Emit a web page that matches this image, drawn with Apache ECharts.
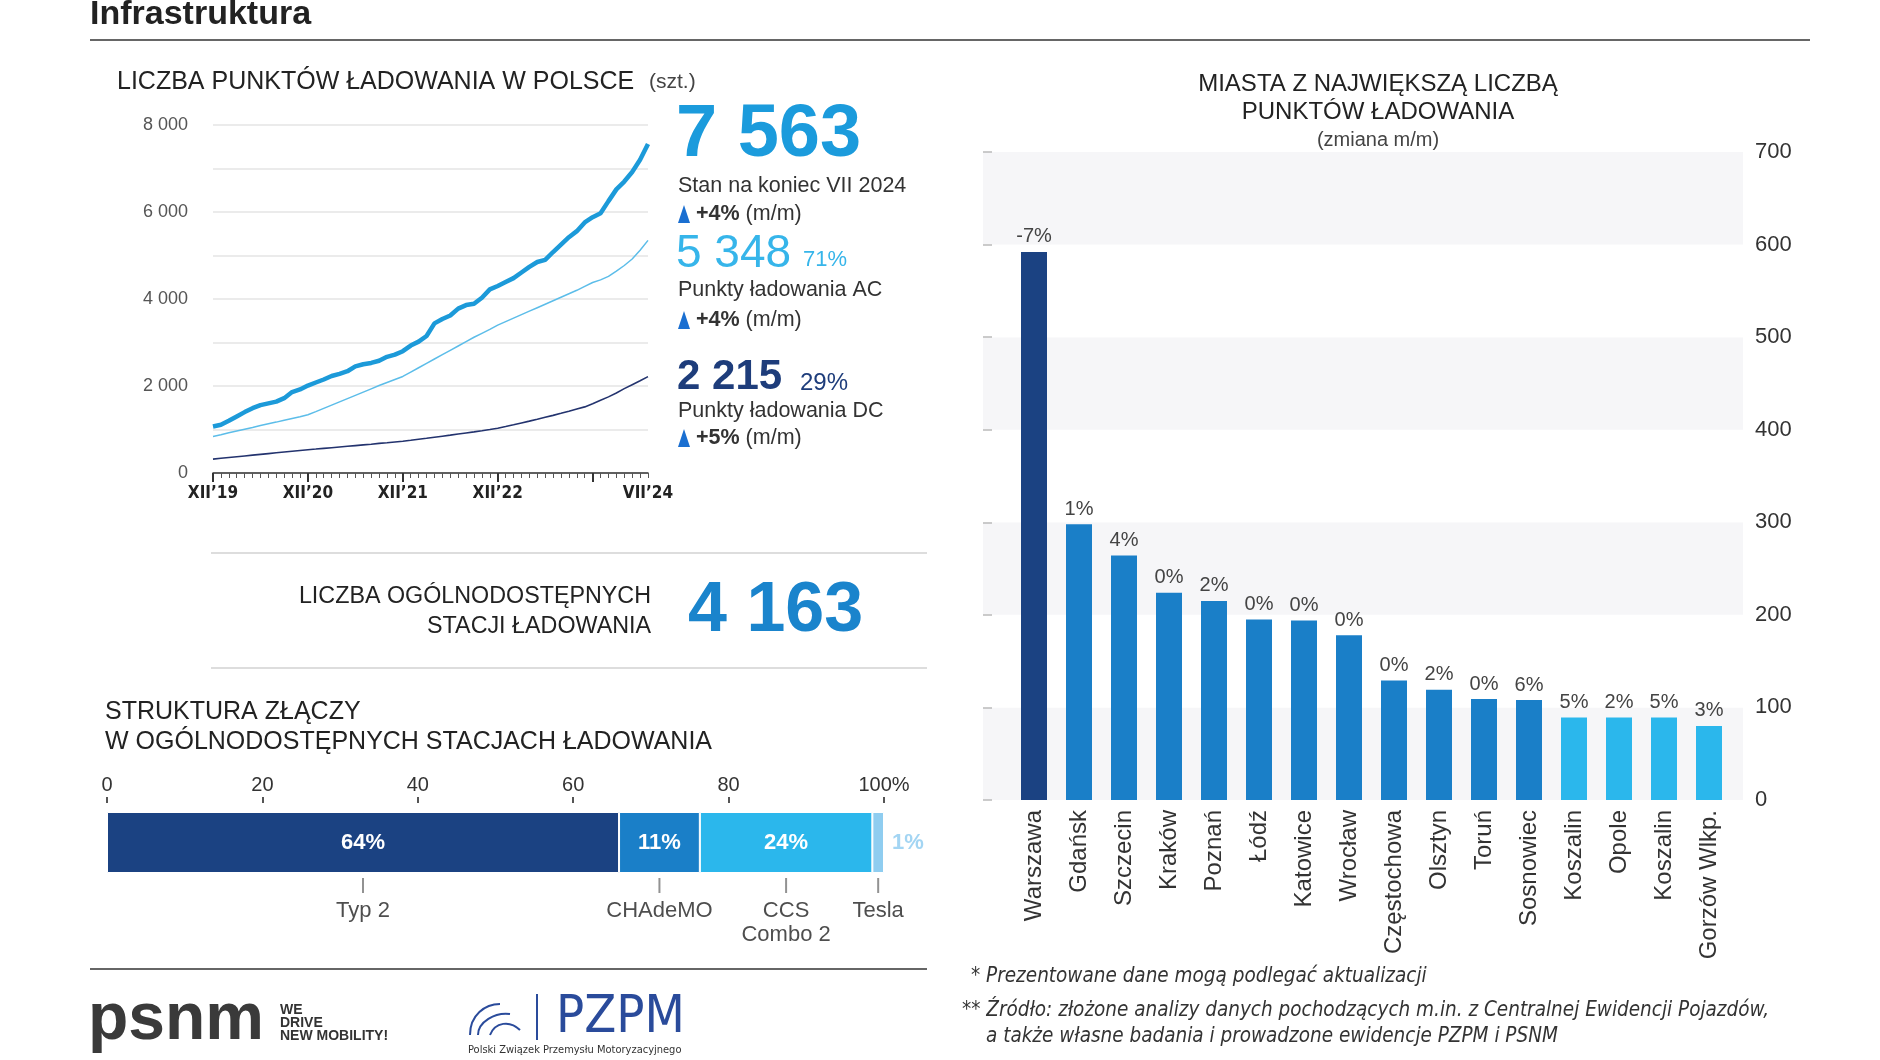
<!DOCTYPE html>
<html>
<head>
<meta charset="utf-8">
<title>Infrastruktura</title>
<script src="https://cdn.jsdelivr.net/npm/echarts@6/dist/echarts.min.js"></script>
<style>
html, body { margin: 0; padding: 0; background: #fff; }
#chart { width: 1880px; height: 1060px; }
</style>
</head>
<body>
<div id="chart"></div>
<script>
// ---------- dane ----------
var months = [
    "XII’19",
    "I’20", "II’20", "III’20", "IV’20", "V’20", "VI’20", "VII’20", "VIII’20", "IX’20", "X’20", "XI’20", "XII’20",
    "I’21", "II’21", "III’21", "IV’21", "V’21", "VI’21", "VII’21", "VIII’21", "IX’21", "X’21", "XI’21", "XII’21",
    "I’22", "II’22", "III’22", "IV’22", "V’22", "VI’22", "VII’22", "VIII’22", "IX’22", "X’22", "XI’22", "XII’22",
    "I’23", "II’23", "III’23", "IV’23", "V’23", "VI’23", "VII’23", "VIII’23", "IX’23", "X’23", "XI’23", "XII’23",
    "I’24", "II’24", "III’24", "IV’24", "V’24", "VI’24", "VII’24"
];
var shownMonths = [0, 12, 24, 36, 55];

var totalPoints = [
    1070, 1110, 1200, 1300, 1400, 1490, 1560, 1600, 1640, 1720, 1860, 1920,
    2010, 2080, 2150, 2230, 2280, 2340, 2450, 2500, 2530, 2580, 2670, 2720,
    2800, 2930, 3020, 3150, 3440, 3540, 3620, 3780, 3860, 3890, 4030, 4220,
    4300, 4390, 4480, 4610, 4740, 4850, 4900, 5080, 5250, 5420, 5560, 5760,
    5880, 5970, 6250, 6520, 6700, 6920, 7200, 7563
];
var acPoints = [
    840, 880, 925, 965, 1005, 1045, 1090, 1130, 1170, 1215, 1255, 1295,
    1340, 1410, 1485, 1560, 1635, 1710, 1785, 1860, 1935, 2010, 2080, 2150,
    2220, 2320, 2420, 2520, 2620, 2720, 2820, 2920, 3020, 3120, 3210, 3300,
    3400, 3480, 3560, 3640, 3720, 3800, 3880, 3960, 4040, 4120, 4200, 4290,
    4380, 4440, 4520, 4640, 4770, 4920, 5120, 5348
];
var dcPoints = [
    320, 338, 356, 374, 392, 410, 428, 446, 464, 482, 500, 518,
    535, 550, 566, 582, 598, 614, 630, 646, 662, 680, 696, 713,
    730, 752, 775, 798, 822, 846, 870, 895, 920, 945, 972, 1000,
    1030, 1068, 1108, 1150, 1192, 1235, 1280, 1325, 1372, 1420, 1470, 1520,
    1590, 1670, 1750, 1840, 1940, 2030, 2120, 2215
];

var connectors = ['Typ 2', 'CHAdeMO', 'CCS\nCombo 2', 'Tesla'];
var connectorShare = [65.9, 10.4, 22.2, 1.5];
var connectorLabels = ['64%', '11%', '24%', '1%'];

var cities = ['Warszawa', 'Gdańsk', 'Szczecin', 'Kraków', 'Poznań', 'Łódź', 'Katowice', 'Wrocław',
    'Częstochowa', 'Olsztyn', 'Toruń', 'Sosnowiec', 'Koszalin', 'Opole', 'Koszalin', 'Gorzów Wlkp.'];
var cityPoints = [592, 298, 264, 224, 215, 195, 194, 178, 129, 119, 109, 108, 89, 89, 89, 80];
var cityChange = ['-7%', '1%', '4%', '0%', '2%', '0%', '0%', '0%', '0%', '2%', '0%', '6%', '5%', '2%', '5%', '3%'];

// ---------- style ----------
var FONT = "'Liberation Sans', Arial, sans-serif";
var NARROW = "'Liberation Sans Narrow', 'DejaVu Sans Condensed', 'Liberation Sans', Arial, sans-serif";
var NAVY = '#1b4282', MID = '#1a7fc8', LIGHT = '#2bb7ec', PALE = '#8fcdf0';
var segColors = [NAVY, MID, LIGHT, PALE];

function T(x, y, text, size, color, extra) {
    var st = {
        x: x, y: y, text: text, fontSize: size, fontFamily: FONT, fill: color,
        align: 'left', textAlign: 'left', verticalAlign: 'middle', textVerticalAlign: 'middle'
    };
    if (extra) {
        for (var k in extra) st[k] = extra[k];
        if (extra.align) st.textAlign = extra.align;
    }
    return { type: 'text', silent: true, style: st };
}
function L(x1, y1, x2, y2, color, w) {
    return { type: 'line', silent: true, shape: { x1: x1, y1: y1, x2: x2, y2: y2 }, style: { stroke: color, lineWidth: w } };
}
function tri(x, y) {
    return { type: 'polygon', silent: true, shape: { points: [[x, y + 9], [x + 6, y - 9], [x + 12, y + 9]] }, style: { fill: '#1a6fd1' } };
}
function change(x, y, pct) {
    return T(x + 18, y, '{b|' + pct + '} (m/m)', 21.5, '#333', { rich: { b: { fontSize: 21.5, fontWeight: 'bold', fill: '#333', fontFamily: FONT } } });
}

var graphics = [
    T(90, 15, 'Infrastruktura', 34, '#222', { fontWeight: 'bold' }),
    L(90, 40, 1810, 40, '#666', 2),
    T(117, 82, 'LICZBA PUNKTÓW ŁADOWANIA W POLSCE', 25, '#222'),
    T(649, 82, '(szt.)', 21, '#444'),

    T(676, 136, '7 563', 74, '#1b9bdc', { fontWeight: 'bold' }),
    T(678, 186, 'Stan na koniec VII 2024', 21.5, '#333'),
    tri(678, 214), change(678, 214, '+4%'),
    T(676, 254, '5 348', 46, '#36b5ea'),
    T(803, 260, '71%', 22, '#36b5ea'),
    T(678, 290, 'Punkty ładowania AC', 21.5, '#333'),
    tri(678, 320), change(678, 320, '+4%'),
    T(677, 377, '2 215', 42, '#1e3d7b', { fontWeight: 'bold' }),
    T(800, 383, '29%', 24, '#1e3d7b'),
    T(678, 411, 'Punkty ładowania DC', 21.5, '#333'),
    tri(678, 438), change(678, 438, '+5%'),

    L(211, 553, 927, 553, '#ddd', 2),
    L(211, 668, 927, 668, '#ddd', 2),
    T(651, 597, 'LICZBA OGÓLNODOSTĘPNYCH', 23.3, '#222', { align: 'right' }),
    T(651, 627, 'STACJI ŁADOWANIA', 23.3, '#222', { align: 'right' }),
    T(688, 612, '4 163', 70, '#1a84cc', { fontWeight: 'bold' }),

    T(105, 712, 'STRUKTURA ZŁĄCZY', 25, '#222'),
    T(105, 742, 'W OGÓLNODOSTĘPNYCH STACJACH ŁADOWANIA', 25, '#222'),
    L(90, 969, 927, 969, '#666', 2),

    T(1378, 84, 'MIASTA Z NAJWIĘKSZĄ LICZBĄ', 24, '#222', { align: 'center' }),
    T(1378, 112, 'PUNKTÓW ŁADOWANIA', 24, '#222', { align: 'center' }),
    T(1378, 140, '(zmiana m/m)', 20, '#444', { align: 'center' }),

    T(971, 977, '* Prezentowane dane mogą podlegać aktualizacji', 20.5, '#333', { fontStyle: 'italic', fontFamily: NARROW }),
    T(962, 1011, '** Źródło: złożone analizy danych pochodzących m.in. z Centralnej Ewidencji Pojazdów,', 20.5, '#333', { fontStyle: 'italic', fontFamily: NARROW }),
    T(986, 1037, 'a także własne badania i prowadzone ewidencje PZPM i PSNM', 20.5, '#333', { fontStyle: 'italic', fontFamily: NARROW }),

    // logotypy
    T(88, 1021, 'psnm', 66, '#3a3a3a', { fontWeight: 'bold' }),
    T(280, 1010, 'WE', 14, '#333', { fontWeight: 'bold' }),
    T(280, 1023, 'DRIVE', 14, '#333', { fontWeight: 'bold' }),
    T(280, 1036, 'NEW MOBILITY!', 14, '#333', { fontWeight: 'bold' }),
    { type: 'bezierCurve', silent: true, shape: { x1: 470, y1: 1035, x2: 500, y2: 1004, cpx1: 470, cpy1: 1015, cpx2: 485, cpy2: 1004 }, style: { stroke: '#2a4b9b', lineWidth: 2, fill: null } },
    { type: 'bezierCurve', silent: true, shape: { x1: 478, y1: 1035, x2: 510, y2: 1014, cpx1: 478, cpy1: 1022, cpx2: 495, cpy2: 1012 }, style: { stroke: '#2a4b9b', lineWidth: 2, fill: null } },
    { type: 'bezierCurve', silent: true, shape: { x1: 490, y1: 1035, x2: 520, y2: 1030, cpx1: 495, cpy1: 1022, cpx2: 510, cpy2: 1020 }, style: { stroke: '#2a4b9b', lineWidth: 2, fill: null } },
    L(537, 994, 537, 1040, '#2a4b9b', 2),
    T(556, 1018, 'PZPM', 52, '#2a4b9b', { fontFamily: NARROW }),
    T(468, 1050, 'Polski Związek Przemysłu Motoryzacyjnego', 11, '#333', { fontFamily: NARROW })
];

// środki segmentów dla etykiet złączy
var connectorPoints = [];
var acc = 0;
for (var i = 0; i < connectorShare.length; i++) {
    connectorPoints.push({ value: [acc + connectorShare[i] / 2, 0], name: connectors[i] });
    acc += connectorShare[i];
}

var shareSeries = connectorShare.map(function (v, i) {
    return {
        type: 'bar', xAxisIndex: 1, yAxisIndex: 1, stack: 'share', barWidth: 61,
        data: [v],
        itemStyle: { color: segColors[i], borderColor: '#fff', borderWidth: 1 },
        label: {
            show: true, position: i === 3 ? 'right' : 'inside', distance: 8,
            formatter: connectorLabels[i], fontFamily: FONT, fontSize: 22, fontWeight: 'bold',
            color: i === 3 ? '#a3d5f3' : '#fff'
        },
        silent: true
    };
});

var option = {
    animation: false,
    backgroundColor: '#fff',
    textStyle: { fontFamily: FONT },
    graphic: graphics,
    grid: [
        { left: 213, top: 125, width: 435, height: 348 },
        { left: 107, top: 812, width: 777, height: 61 },
        { left: 983, top: 152, width: 760, height: 648 },
        { left: 1011.5, top: 152, width: 720, height: 648 }
    ],
    xAxis: [
        {
            gridIndex: 0, type: 'category', data: months, boundaryGap: false, position: 'bottom',
            axisLine: { lineStyle: { color: '#333', width: 1.5 } },
            axisTick: { interval: 0, length: 5, lineStyle: { color: '#555' } },
            axisLabel: {
                interval: function (idx) { return shownMonths.indexOf(idx) >= 0; },
                fontFamily: NARROW, fontWeight: 'bold', fontSize: 17, color: '#222', margin: 12
            }
        },
        {
            gridIndex: 1, type: 'value', position: 'top', min: 0, max: 100, interval: 20, offset: 9,
            axisLine: { show: false },
            axisTick: { show: true, length: 6, lineStyle: { color: '#555', width: 2 } },
            axisLabel: {
                fontSize: 20, color: '#333', margin: 8,
                formatter: function (v) { return v === 100 ? '100%' : String(v); }
            },
            splitLine: { show: false }
        },
        { gridIndex: 2, type: 'value', show: false },
        {
            gridIndex: 3, type: 'category', data: cities,
            axisLine: { show: false }, axisTick: { show: false },
            axisLabel: { interval: 0, rotate: 90, fontSize: 24, color: '#333', margin: 10 }
        },
        {
            gridIndex: 0, type: 'category', data: months, boundaryGap: false, position: 'bottom', offset: 0,
            axisLine: { show: false },
            axisTick: {
                interval: function (idx) { return idx % 12 === 0; },
                length: 9, lineStyle: { color: '#333', width: 2 }
            },
            axisLabel: { show: false }
        }
    ],
    yAxis: [
        {
            gridIndex: 0, type: 'value', min: 0, max: 8000, interval: 1000,
            axisLine: { show: false }, axisTick: { show: false },
            axisLabel: {
                fontSize: 18, color: '#555', margin: 25,
                formatter: function (v) {
                    if (v % 2000 !== 0) return '';
                    return v === 0 ? '0' : String(v / 1000) + ' 000';
                }
            },
            splitLine: { lineStyle: { color: '#e4e4e4', width: 1.5 } }
        },
        { gridIndex: 1, type: 'category', data: ['s'], show: false },
        {
            gridIndex: 2, type: 'value', position: 'right', min: 0, max: 700, interval: 100,
            axisLine: { show: false },
            axisTick: { show: true, length: 9, lineStyle: { color: '#bbb', width: 1.5 } },
            axisLabel: { fontSize: 22, color: '#333', margin: 12 },
            splitLine: { show: false },
            splitArea: { show: true, areaStyle: { color: ['#f6f6f8', '#ffffff'] } }
        },
        { gridIndex: 3, type: 'value', min: 0, max: 700, show: false }
    ],
    series: [
        {
            name: 'AC', type: 'line', xAxisIndex: 0, yAxisIndex: 0, data: acPoints,
            symbol: 'none', lineStyle: { color: '#5cbde9', width: 1.5 }, silent: true
        },
        {
            name: 'DC', type: 'line', xAxisIndex: 0, yAxisIndex: 0, data: dcPoints,
            symbol: 'none', lineStyle: { color: '#23336e', width: 1.6 }, silent: true
        },
        {
            name: 'Razem', type: 'line', xAxisIndex: 0, yAxisIndex: 0, data: totalPoints,
            symbol: 'none', lineStyle: { color: '#1c9ad9', width: 4.5 }, silent: true
        }
    ].concat(shareSeries).concat([
        {
            type: 'scatter', xAxisIndex: 1, yAxisIndex: 1, data: connectorPoints,
            symbol: 'rect', symbolSize: [2, 15], symbolOffset: [0, 43],
            itemStyle: { color: '#777' }, silent: true,
            label: {
                show: true, position: 'bottom', distance: 6,
                formatter: function (p) { return p.name; },
                fontSize: 22, color: '#222', lineHeight: 24
            }
        },
        {
            type: 'bar', xAxisIndex: 3, yAxisIndex: 3, data: cityPoints, barWidth: 26, silent: true,
            itemStyle: {
                color: function (p) { return p.dataIndex === 0 ? NAVY : (p.dataIndex >= 12 ? LIGHT : MID); }
            },
            label: {
                show: true, position: 'top', distance: 5,
                formatter: function (p) { return cityChange[p.dataIndex]; },
                fontSize: 20, color: '#444'
            }
        }
    ])
};

echarts.init(document.getElementById('chart')).setOption(option);
</script>
</body>
</html>
